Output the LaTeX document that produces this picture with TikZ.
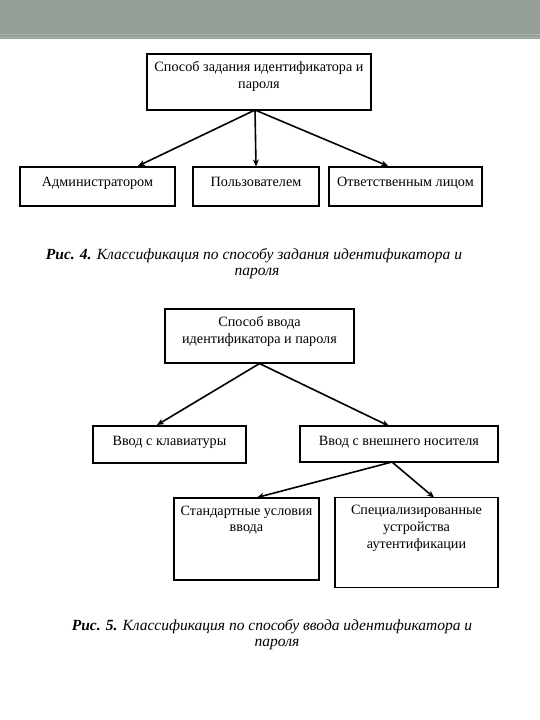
\documentclass[tikz,border=0pt]{standalone}
\usepackage{fontspec}
\setmainfont{Liberation Serif}
\usetikzlibrary{arrows.meta}
\definecolor{bandgrey}{RGB}{149,160,150}
\definecolor{bandlight}{RGB}{172,182,173}
\tikzset{
  boxnode/.style={draw=black, line width=1.1pt, rectangle, inner sep=0pt},
  boxtext/.style={anchor=north, align=center, inner sep=0pt, font=\fontsize{14.2}{16.8}\selectfont, execute at begin node=\strut},
  capt/.style={anchor=base, inner sep=0pt, font=\fontsize{15.5}{18}\selectfont\itshape},
  arr/.style={draw=black, line width=1.6pt, -{Stealth[length=7pt,width=6pt]}}
}
\begin{document}
\begin{tikzpicture}[x=1pt,y=-1pt]
\useasboundingbox (0,0) rectangle (540,720);
\fill[white] (0,0) rectangle (540,720);
% header band
\fill[bandgrey] (0,0) rectangle (540,39);
\fill[bandlight] (0,33.5) rectangle (540,34.8);
\fill[bandlight] (0,36.5) rectangle (540,37.6);

% ---------- Figure 4 ----------
\node[boxnode, minimum width=224pt, minimum height=56pt] (top4) at (259,82) {};
\node[boxtext] (top4t) at ([yshift=-8pt]top4.north) {Способ задания идентификатора и\\пароля};

\node[boxnode, minimum width=155pt, minimum height=39pt] (adm) at (97.5,186.5) {};
\node[boxtext] (admt) at ([yshift=-8pt]adm.north) {Администратором};
\node[boxnode, minimum width=126pt, minimum height=39pt] (usr) at (256,186.5) {};
\node[boxtext] (usrt) at ([yshift=-8pt]usr.north) {Пользователем};
\node[boxnode, minimum width=153pt, minimum height=39pt] (resp) at (405.5,186.5) {};
\node[boxtext] (respt) at ([yshift=-8pt]resp.north) {Ответственным лицом};

\coordinate (o4) at (255,110);
\draw[arr] (o4) -- (138,166);
\draw[arr] (o4) -- (usr.north);
\draw[arr] (o4) -- (388,166);

\node[capt] (cap4a) at (254,259) {\textbf{Рис. 4.} Классификация по способу задания идентификатора и};
\node[capt] (cap4b) at (257,275.5) {пароля};

% ---------- Figure 5 ----------
\node[boxnode, minimum width=189pt, minimum height=54pt] (top5) at (259.5,336) {};
\node[boxtext] (top5t) at ([yshift=-8pt]top5.north) {Способ ввода\\идентификатора и пароля};

\node[boxnode, minimum width=153pt, minimum height=37pt] (kbd) at (169.5,444.5) {};
\node[boxtext] (kbdt) at ([yshift=-8pt]kbd.north) {Ввод с клавиатуры};
\node[boxnode, minimum width=198pt, minimum height=36pt] (ext) at (399,444) {};
\node[boxtext] (extt) at ([yshift=-8pt]ext.north) {Ввод с внешнего носителя};

\draw[arr] (top5.south) -- (157,425);
\draw[arr] (top5.south) -- (389,426);

\node[boxnode, minimum width=145pt, minimum height=82pt] (std) at (246.5,539) {};
\node[boxtext] (stdt) at ([yshift=-8pt]std.north) {Стандартные условия\\ввода};
\node[boxnode, minimum width=163pt, minimum height=90pt] (spec) at (416.5,542.5) {};
\node[boxtext] (spect) at ([yshift=-8pt]spec.north) {Специализированные\\устройства\\аутентификации};

\coordinate (o5) at (392,462);
\draw[arr] (o5) -- (257,497.5);
\draw[arr] (o5) -- (434,497.5);

\node[capt] (cap5a) at (272,630) {\textbf{Рис. 5.} Классификация по способу ввода идентификатора и};
\node[capt] (cap5b) at (277,646.5) {пароля};
\end{tikzpicture}
\end{document}
